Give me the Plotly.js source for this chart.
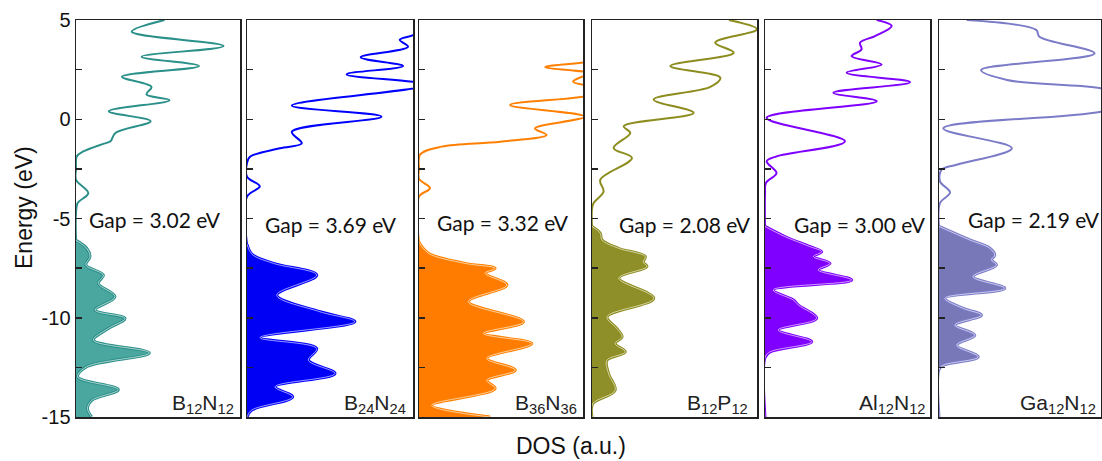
<!DOCTYPE html>
<html><head><meta charset="utf-8">
<script src="https://cdn.plot.ly/plotly-3.0.1.min.js"></script>
<style>html,body{margin:0;padding:0;background:#fff}#chart{width:1102px;height:461px}</style>
</head><body><div id="chart"></div>
<script>
// ---- data ----
const compounds = ["B<sub>12</sub>N<sub>12</sub>", "B<sub>24</sub>N<sub>24</sub>", "B<sub>36</sub>N<sub>36</sub>",
                   "B<sub>12</sub>P<sub>12</sub>", "Al<sub>12</sub>N<sub>12</sub>", "Ga<sub>12</sub>N<sub>12</sub>"];
const gapLabels = ["Gap = 3.02 eV", "Gap = 3.69 eV", "Gap = 3.32 eV", "Gap = 2.08 eV", "Gap = 3.00 eV", "Gap = 2.19 eV"];
const yTickVals = [5, 0, -5, -10, -15];
const yTickText = ["5", "0", "-5", "-10", "-15"];

// unoccupied states: energy (eV), DOS (a.u.)
const cbE1 = [5.0, 4.41, 3.69, 3.15, 2.68, 2.14, 1.63, 1.25, 0.96, 0.40, -0.10, -0.69, -1.11, -1.23, -1.62, -1.87, -2.5, -3.05, -3.72, -4.22, -4.73, -6.1];
const cbD1 = [54, 34, 90, 40, 75, 28, 46, 43, 57, 20, 45.5, 24, 21, 17, 4.5, 0.5, 0, 0, 7.5, 1, 0, 0];
const cbE2 = [5.0, 4.24, 4.0, 3.65, 3.12, 2.68, 2.26, 1.73, 0.69, 0.13, -0.63, -1.21, -1.46, -1.89, -2.2, -2.9, -3.38, -3.9, -6.3];
const cbD2 = [118, 100, 92, 97, 68.5, 94, 60, 108, 27, 81, 27, 33, 19.9, 1.8, 0, 0, 7.7, 0, 0];
const cbE3 = [5.0, 3.4, 2.9, 2.62, 2.31, 1.9, 1.5, 1.2, 0.72, 0.13, -0.46, -0.79, -1.13, -1.38, -1.78, -2.5, -3.0, -3.47, -3.9, -6.2];
const cbD3 = [135, 125, 103, 77, 103, 94, 112, 104, 55.5, 101, 70.7, 77.8, 49.6, 13.8, 0.6, 0, 0, 6.7, 0, 0];
const cbE4 = [5.0, 4.53, 3.86, 3.35, 2.68, 2.09, 1.63, 0.99, 0.32, -0.35, -0.69, -1.45, -1.95, -3.05, -3.64, -4.22, -4.5, -5.4];
const cbD4 = [83, 100, 74.7, 85.9, 47.5, 77.8, 71.7, 37.4, 61.6, 19.2, 23.2, 13.1, 24.2, 5, 7, 1, 0, 0];
const cbE5 = [5.0, 4.7, 4.19, 3.86, 3.52, 3.18, 2.76, 2.34, 1.87, 1.33, 0.91, 0.07, -1.11, -1.87, -2.12, -2.71, -3.2, -3.8, -5.4];
const cbD5 = [67.7, 76.8, 66.7, 57.6, 58.5, 52.5, 70.7, 49.5, 87.9, 41.4, 67.7, 1, 48.5, 7, 1, 7, 0.6, 0, 0];
const cbE6 = [5.0, 4.5, 4.16, 3.32, 2.48, 1.98, 1.56, 1.0, 0.38, -0.46, -1.46, -2.29, -2.54, -3.13, -3.69, -4.22, -5.4];
const cbD6 = [17, 60, 62, 96, 26, 42, 100, 125, 100, 2.7, 45, 10.9, 1.6, 0.6, 6.8, 0.6, 0];

// occupied states: energy (eV), DOS (a.u.)
const vbE1 = [-6.1, -6.5, -6.92, -7.34, -7.85, -8.27, -8.94, -9.61, -10.03, -10.54, -11.13, -11.77, -12.47, -12.98, -13.62, -14.16, -14.58, -15];
const vbD1 = [0, 6.5, 8.5, 6, 16.7, 13.6, 23.8, 11.6, 29.9, 19.7, 10.6, 44.7, 6.5, 1, 25.8, 9.6, 7, 9.6];
const vbE2 = [-6.3, -6.8, -7.26, -7.85, -8.86, -9.7, -10.2, -11.0, -11.55, -12.14, -12.81, -13.48, -13.99, -14.66, -15];
const vbD2 = [0, 3, 15.9, 42, 17.9, 44, 65, 7.8, 42, 37, 53, 16.9, 27.5, 2.6, 0];
const vbE3 = [-6.2, -6.75, -7.26, -7.51, -7.76, -8.35, -9.19, -10.2, -10.79, -11.30, -12.05, -12.64, -13.15, -13.57, -14.41, -15];
const vbD3 = [0, 5.7, 28, 46.4, 40.3, 53.6, 30.1, 63.7, 39.3, 68.8, 41.3, 58.7, 41.3, 46.4, 7.7, 43.4];
const vbE4 = [-5.4, -5.74, -6.08, -6.5, -6.92, -7.2, -7.42, -8.01, -9.02, -9.95, -10.54, -10.96, -11.3, -11.72, -12.14, -12.81, -13.65, -14.33, -15];
const vbD4 = [0, 5, 6, 16, 32.3, 31, 33.3, 16.2, 37.4, 9.1, 15, 18.2, 14, 20.2, 9, 10, 14, 0.4, 0];
const vbE5 = [-5.4, -5.91, -6.41, -6.67, -6.92, -7.26, -7.59, -8.1, -8.6, -9.11, -9.36, -10.03, -10.62, -11.21, -11.72, -12.0, -15];
const vbD5 = [0, 12, 27, 34.3, 29.3, 39.4, 32.3, 52.5, 5, 17.2, 20.2, 31.3, 8, 28.3, 3, 0, 0];
const vbE6 = [-5.4, -6.08, -6.5, -6.84, -7.09, -7.34, -7.93, -8.52, -9.02, -9.53, -9.87, -10.37, -10.88, -11.38, -11.97, -12.39, -12.6, -15];
const vbD6 = [0, 19, 31.4, 34.4, 32.4, 35.5, 21, 40.6, 3.7, 15, 26.2, 9.8, 22.1, 10.9, 24.2, 2.7, 0, 0];

// ---- styles / layout ----
const cbE = [cbE1, cbE2, cbE3, cbE4, cbE5, cbE6];
const cbD = [cbD1, cbD2, cbD3, cbD4, cbD5, cbD6];
const vbE = [vbE1, vbE2, vbE3, vbE4, vbE5, vbE6];
const vbD = [vbD1, vbD2, vbD3, vbD4, vbD5, vbD6];
const lineColors = ["#2a9089", "#0000ff", "#ff8000", "#8d8d1f", "#7f00ff", "#7b7bc8"];
const fillColors = ["#4aa7a0", "#0000f5", "#ff7c00", "#8f8f2a", "#7f00ff", "#7878b9"];

const W = 1102, H = 461;
const px = [[76, 240], [247, 413], [419, 583], [592, 757], [765, 930], [939, 1101]];
const yTop = 20, yBot = 417;
const gapPos = [[87, 219], [263, 224], [435, 222], [617, 224], [792, 224], [966, 219]];
const namePos = [[236, 404], [408, 404], [579, 404], [750, 404], [928, 404], [1098, 404]];

const traces = [];
const layout = {
  width: W, height: H, margin: {l: 0, r: 0, t: 0, b: 0},
  paper_bgcolor: "#fff", plot_bgcolor: "#fff", showlegend: false,
  font: {family: "Arial, Liberation Sans, sans-serif", color: "#111"},
  annotations: []
};
const fx = v => v / W, fy = v => 1 - v / H;

for (let i = 0; i < 6; i++) {
  const s = i === 0 ? "" : String(i + 1);
  const xa = "x" + s, ya = "y" + s;
  traces.push({x: cbD[i], y: cbE[i], xaxis: xa, yaxis: ya, mode: "lines",
    line: {color: lineColors[i], width: 2, shape: "spline", smoothing: 1}, hoverinfo: "skip"});
  traces.push({x: vbD[i], y: vbE[i], xaxis: xa, yaxis: ya, mode: "lines", fill: "tozerox",
    fillcolor: fillColors[i], line: {color: lineColors[i], width: 3, shape: "spline", smoothing: 1}, hoverinfo: "skip"});
  traces.push({x: vbD[i], y: vbE[i], xaxis: xa, yaxis: ya, mode: "lines",
    line: {color: "rgba(255,255,255,0.6)", width: 1, shape: "spline", smoothing: 1}, hoverinfo: "skip"});

  layout["xaxis" + s] = {domain: [fx(px[i][0]), fx(px[i][1])], range: [0, 100], anchor: ya,
    showgrid: false, zeroline: false, showticklabels: false, ticks: "",
    showline: true, mirror: true, linecolor: "#222", linewidth: 1.5, fixedrange: true};
  layout["yaxis" + s] = {domain: [fy(yBot), fy(yTop)], range: [-15, 5], anchor: xa,
    showgrid: false, zeroline: false, showline: true, mirror: true, linecolor: "#222", linewidth: 1.5,
    ticks: "inside", ticklen: 6, tickwidth: 1.5, tickcolor: "#222",
    tickmode: "array", tickvals: yTickVals, ticktext: yTickText,
    minor: {ticks: "inside", tick0: 2.5, dtick: 5, ticklen: 6, tickwidth: 1.5, tickcolor: "#222", showgrid: false},
    showticklabels: i === 0, tickfont: {family: "Arial, Liberation Sans, sans-serif", size: 20, color: "#111"},
    fixedrange: true};

  layout.annotations.push({text: gapLabels[i], xref: "paper", yref: "paper",
    x: fx(gapPos[i][0]), y: fy(gapPos[i][1]), xanchor: "left", yanchor: "middle", showarrow: false,
    font: {family: "Lato, Open Sans, sans-serif", size: 21, color: "#111"}});
  layout.annotations.push({text: compounds[i], xref: "paper", yref: "paper",
    x: fx(namePos[i][0]), y: fy(namePos[i][1]), xanchor: "right", yanchor: "middle", showarrow: false,
    font: {family: "Arial, Liberation Sans, sans-serif", size: 21, color: "#222"}});
}
layout.annotations.push({text: "Energy (eV)", xref: "paper", yref: "paper", x: fx(24), y: fy(208),
  xanchor: "center", yanchor: "middle", textangle: -90, showarrow: false,
  font: {family: "Arial, Liberation Sans, sans-serif", size: 23, color: "#111"}});
layout.annotations.push({text: "DOS (a.u.)", xref: "paper", yref: "paper", x: fx(571), y: fy(446),
  xanchor: "center", yanchor: "middle", showarrow: false,
  font: {family: "Arial, Liberation Sans, sans-serif", size: 23, color: "#111"}});

Plotly.newPlot("chart", traces, layout, {staticPlot: true, displayModeBar: false});
</script></body></html>
